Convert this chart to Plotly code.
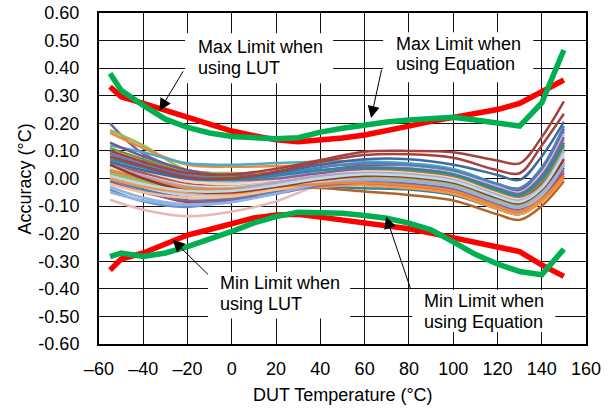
import plotly.graph_objects as go

# ---------------- data ----------------
temps = [-55, -40, -20, 0, 20, 40, 60, 80, 100, 120, 130, 140, 150]

unit_curves = [
    [0.200, 0.090, 0.030, 0.015, 0.015, 0.025, 0.035, 0.030, 0.010, -0.040, -0.060, -0.010, 0.100],
    [0.175, 0.120, 0.030, 0.020, 0.020, 0.030, 0.035, 0.030, 0.010, -0.040, -0.055, 0.000, 0.110],
    [0.165, 0.110, 0.050, 0.043, 0.045, 0.050, 0.050, 0.045, 0.025, -0.030, -0.045, 0.010, 0.130],
    [0.120, 0.095, 0.055, 0.050, 0.056, 0.062, 0.062, 0.055, 0.035, -0.020, -0.040, 0.030, 0.170],
    [0.130, 0.080, 0.030, 0.010, 0.015, 0.030, 0.045, 0.040, 0.020, -0.030, -0.045, 0.030, 0.180],
    [-0.077, -0.113, -0.137, -0.120, -0.083, -0.023, 0.005, 0.005, -0.015, -0.065, -0.085, -0.045, 0.050],
    [-0.040, -0.083, -0.103, -0.077, -0.050, -0.025, -0.020, -0.030, -0.050, -0.100, -0.120, -0.070, 0.030],
    [0.000, -0.020, -0.030, -0.035, -0.035, -0.034, -0.047, -0.060, -0.080, -0.130, -0.150, -0.100, -0.010],
    [0.020, -0.010, -0.040, -0.050, -0.030, -0.030, -0.035, -0.040, -0.060, -0.110, -0.130, -0.080, 0.010],
    [0.030, -0.040, -0.085, -0.070, -0.050, -0.020, -0.010, -0.015, -0.035, -0.090, -0.110, -0.060, 0.040],
    [-0.030, -0.070, -0.095, -0.085, -0.050, -0.010, 0.000, -0.005, -0.025, -0.080, -0.100, -0.050, 0.060],
    [0.040, 0.000, -0.040, -0.040, -0.020, 0.000, 0.010, 0.005, -0.015, -0.070, -0.090, -0.040, 0.080],
    [0.090, 0.050, 0.010, 0.000, 0.005, 0.020, 0.030, 0.025, 0.005, -0.050, -0.070, -0.020, 0.110],
    [0.070, 0.030, -0.005, -0.010, 0.000, 0.020, 0.035, 0.035, 0.015, -0.040, -0.060, 0.000, 0.140],
    [0.050, 0.020, -0.010, -0.015, 0.000, 0.020, 0.030, 0.025, 0.005, -0.050, -0.070, -0.020, 0.120],
    [0.010, -0.020, -0.050, -0.050, -0.030, -0.015, -0.020, -0.030, -0.050, -0.100, -0.120, -0.070, 0.020],
    [0.000, -0.040, -0.070, -0.070, -0.045, -0.020, -0.010, -0.015, -0.035, -0.090, -0.105, -0.060, 0.050],
    [0.060, 0.020, -0.020, -0.025, -0.010, 0.010, 0.025, 0.025, 0.005, -0.050, -0.070, -0.020, 0.120],
    [0.110, 0.070, 0.020, 0.005, 0.010, 0.025, 0.035, 0.030, 0.010, -0.045, -0.065, -0.010, 0.120],
    [0.030, 0.000, -0.030, -0.030, -0.010, 0.005, 0.010, 0.005, -0.020, -0.075, -0.095, -0.050, 0.060],
    [0.020, -0.020, -0.055, -0.055, -0.035, -0.010, 0.000, -0.005, -0.025, -0.080, -0.100, -0.050, 0.060],
    [0.080, 0.040, 0.000, -0.005, 0.005, 0.025, 0.040, 0.040, 0.020, -0.030, -0.050, 0.020, 0.160],
    [0.000, -0.030, -0.060, -0.060, -0.040, -0.010, 0.005, 0.005, -0.015, -0.070, -0.090, -0.040, 0.080],
    [0.060, 0.030, -0.010, -0.020, -0.005, 0.015, 0.025, 0.020, 0.000, -0.055, -0.075, -0.030, 0.100],
    [0.040, 0.010, -0.025, -0.030, -0.015, 0.005, 0.015, 0.010, -0.010, -0.065, -0.085, -0.040, 0.090],
    [0.100, 0.060, 0.010, -0.005, 0.000, 0.020, 0.035, 0.035, 0.015, -0.035, -0.055, 0.010, 0.150],
    [0.000, -0.030, -0.050, -0.055, -0.040, -0.030, -0.025, -0.035, -0.055, -0.110, -0.130, -0.085, 0.000],
    [0.090, 0.050, 0.010, 0.000, 0.015, 0.040, 0.055, 0.050, 0.030, -0.020, -0.035, 0.040, 0.190],
    [-0.010, -0.050, -0.080, -0.080, -0.055, -0.025, -0.015, -0.020, -0.040, -0.095, -0.115, -0.065, 0.040],
    [0.070, 0.040, 0.000, -0.005, 0.010, 0.030, 0.040, 0.035, 0.015, -0.040, -0.060, 0.000, 0.130],
    [0.020, -0.010, -0.040, -0.045, -0.025, -0.005, 0.005, 0.000, -0.020, -0.075, -0.095, -0.050, 0.070],
    [-0.020, -0.050, -0.070, -0.065, -0.040, -0.015, -0.005, -0.010, -0.030, -0.085, -0.105, -0.060, 0.050],
    [0.050, 0.010, -0.030, -0.035, -0.015, 0.010, 0.020, 0.015, -0.005, -0.060, -0.080, -0.030, 0.100],
    [-0.050, -0.080, -0.095, -0.085, -0.055, -0.020, -0.005, -0.010, -0.030, -0.085, -0.105, -0.055, 0.050],
    [0.030, 0.000, -0.035, -0.040, -0.030, -0.020, -0.015, -0.025, -0.045, -0.100, -0.120, -0.075, 0.010],
    [0.050, 0.000, -0.045, -0.050, -0.030, -0.005, 0.010, 0.005, -0.015, -0.070, -0.090, -0.040, 0.070],
    [0.010, -0.020, -0.045, -0.045, -0.025, 0.000, 0.015, 0.010, -0.010, -0.065, -0.085, -0.035, 0.090],
    [0.060, 0.030, 0.000, 0.000, 0.020, 0.050, 0.070, 0.070, 0.050, 0.013, -0.005, 0.080, 0.205],
    [0.080, 0.045, 0.005, 0.000, 0.025, 0.060, 0.085, 0.088, 0.075, 0.030, 0.019, 0.120, 0.235],
    [0.100, 0.060, 0.020, 0.015, 0.035, 0.067, 0.097, 0.100, 0.095, 0.065, 0.055, 0.150, 0.280],
]

unit_colors = [
    "#7F62A8", "#9BBB59", "#E9883E", "#4BACC6", "#6E5A94",
    "#E6B9B8", "#6A8FC8", "#B0642A", "#31859C", "#A0423F",
    "#95B3D7", "#FAC090", "#C3D69B", "#B3A2C7", "#93CDDD",
    "#C0504D", "#4F81BD", "#C0504D", "#76923C", "#4BACC6",
    "#D99694", "#CCC1DA", "#B9CDE5", "#FCD5B5", "#D7E4BD",
    "#8064A2", "#F79646", "#4F81BD", "#8064A2", "#31859C",
    "#9BBB59", "#FAC090", "#B3A2C7", "#8EB4E3", "#E9883E",
    "#943634", "#B7DEE8", "#3F6AA0", "#A5423F", "#A5423F",
]

limit_temps = [-55, -50, -40, -30, -20, -10, 0, 10, 20, 30, 40, 50, 60, 70, 80,
               90, 100, 110, 120, 130, 140, 150]
lut_max = [0.333, 0.296, 0.272, 0.247, 0.222, 0.198, 0.172, 0.155, 0.140, 0.133, 0.138,
           0.147, 0.158, 0.172, 0.190, 0.207, 0.222, 0.236, 0.250, 0.272, 0.315, 0.357]
lut_min = [-0.332, -0.292, -0.270, -0.240, -0.205, -0.185, -0.162, -0.143, -0.132, -0.130,
           -0.140, -0.150, -0.160, -0.168, -0.182, -0.198, -0.215, -0.234, -0.248, -0.265,
           -0.313, -0.355]
eq_max = [0.381, 0.320, 0.265, 0.215, 0.185, 0.165, 0.152, 0.146, 0.144, 0.148, 0.168,
          0.182, 0.194, 0.205, 0.212, 0.218, 0.222, 0.212, 0.200, 0.190, 0.274, 0.466]
eq_min = [-0.283, -0.270, -0.283, -0.270, -0.247, -0.222, -0.192, -0.161, -0.138, -0.122,
          -0.122, -0.126, -0.134, -0.144, -0.162, -0.186, -0.230, -0.275, -0.310, -0.337,
          -0.349, -0.256]

x_tick_vals = [-60, -40, -20, 0, 20, 40, 60, 80, 100, 120, 140, 160]
x_tick_text = ["\u201360", "\u201340", "\u201320", "0", "20", "40", "60", "80", "100",
               "120", "140", "160"]
y_tick_vals = [0.6, 0.5, 0.4, 0.3, 0.2, 0.1, 0.0, -0.1, -0.2, -0.3, -0.4, -0.5, -0.6]
y_tick_text = ["0.60", "0.50", "0.40", "0.30", "0.20", "0.10", "0.00", "-0.10", "-0.20",
               "-0.30", "-0.40", "-0.50", "-0.60"]

# ---------------- figure ----------------
FONT = "Liberation Sans, Arial, sans-serif"
fig = go.Figure()

for vals, col in zip(unit_curves, unit_colors):
    fig.add_trace(go.Scatter(x=temps, y=vals, mode="lines",
                             line=dict(color=col, width=2.5, shape="spline", smoothing=1.0),
                             hoverinfo="skip"))

for vals, col in [(lut_max, "#FF0000"), (lut_min, "#FF0000"),
                  (eq_max, "#00B050"), (eq_min, "#00B050")]:
    fig.add_trace(go.Scatter(x=limit_temps, y=vals, mode="lines",
                             line=dict(color=col, width=5.5), hoverinfo="skip"))

fig.update_layout(
    width=613, height=410,
    margin=dict(l=99, r=27, t=13, b=66, autoexpand=False),
    paper_bgcolor="white", plot_bgcolor="white",
    showlegend=False,
    font=dict(family=FONT, size=18, color="black"),
)
fig.update_xaxes(range=[-60, 160], tickvals=x_tick_vals, ticktext=x_tick_text,
                 showgrid=True, gridcolor="#111111", gridwidth=1,
                 showline=True, linecolor="black", linewidth=2, mirror=True,
                 zeroline=False, ticks="", ticklabelstandoff=7, automargin=False,
                 tickfont=dict(family=FONT, size=18, color="black"))
fig.update_yaxes(range=[-0.6, 0.6], tickvals=y_tick_vals, ticktext=y_tick_text,
                 showgrid=True, gridcolor="#111111", gridwidth=1,
                 showline=True, linecolor="black", linewidth=2, mirror=True,
                 zeroline=False, ticks="", ticklabelstandoff=14, automargin=False,
                 tickfont=dict(family=FONT, size=18, color="black"))

# white label boxes (cover gridlines)
boxes = [
    (0.1767, 0.4808, 0.7878, 0.9387),
    (0.5835, 0.8917, 0.7908, 0.9417),
    (0.2240, 0.5157, 0.0770, 0.2173),
    (0.6431, 0.9369, 0.0362, 0.1630),
]
for x0, x1, y0, y1 in boxes:
    fig.add_shape(type="rect", xref="x domain", yref="y domain",
                  x0=x0, x1=x1, y0=y0, y1=y1,
                  fillcolor="white", line=dict(width=0), layer="above")

labels = [
    ("Max Limit when", 0.1993, 0.8965), ("using LUT", 0.1993, 0.8349),
    ("Max Limit when", 0.6061, 0.9064), ("using Equation", 0.6061, 0.8461),
    ("Min Limit when", 0.2445, 0.1841), ("using LUT", 0.2445, 0.1216),
    ("Min Limit when", 0.6630, 0.1298), ("using Equation", 0.6630, 0.0664),
]
for txt, xp, yp in labels:
    fig.add_annotation(text=txt, xref="x domain", yref="y domain", x=xp, y=yp,
                       xanchor="left", yanchor="middle", showarrow=False,
                       font=dict(family=FONT, size=18, color="black"))

arrows = [
    (-32.7, 0.246, -21.6, 0.394),
    (62.9, 0.219, 67.8, 0.400),
    (-26.7, -0.222, -10.1, -0.353),
    (69.7, -0.138, 81.0, -0.406),
]
for hx, hy, tx, ty in arrows:
    fig.add_annotation(text="", x=hx, y=hy, ax=tx, ay=ty,
                       xref="x", yref="y", axref="x", ayref="y",
                       showarrow=True, arrowhead=2, arrowsize=2.4, arrowwidth=1,
                       arrowcolor="black", standoff=0)

fig.add_annotation(text="DUT Temperature (°C)", xref="paper", yref="paper",
                   x=0.5, y=-0.155, xanchor="center", yanchor="middle", showarrow=False,
                   font=dict(family=FONT, size=18, color="black"))
fig.add_annotation(text="Accuracy (°C)", xref="paper", yref="paper",
                   x=-0.152, y=0.5, xanchor="center", yanchor="middle", showarrow=False,
                   textangle=-90, font=dict(family=FONT, size=18, color="black"))

fig.write_html("out.html", config={"displayModeBar": False},
               post_script="document.body.style.margin='0';")
